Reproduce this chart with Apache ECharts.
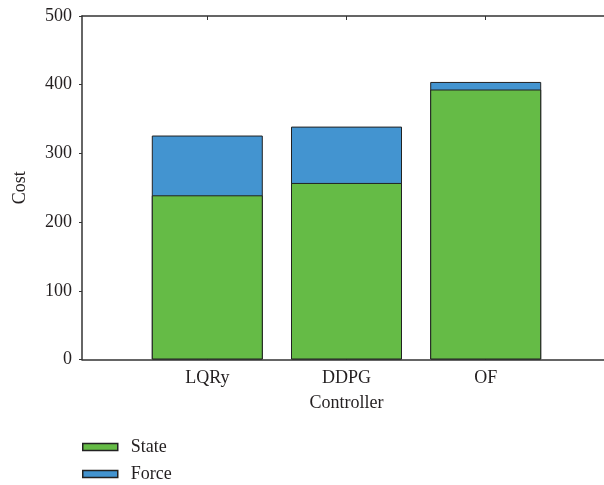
<!DOCTYPE html>
<html>
<head>
<meta charset="utf-8">
<script src="https://cdn.jsdelivr.net/npm/echarts@6/dist/echarts.min.js"></script>
<style>
  html, body { margin: 0; padding: 0; background: #fff; }
  #chart { width: 604px; height: 485px; }
</style>
</head>
<body>
<div id="chart"></div>
<script>
// Controller names along the x axis (placed at positions 1, 2, 3)
const controllers = ['LQRy', 'DDPG', 'OF'];
// Cost components per controller
const stateCost = [239, 257, 393];
const forceCost = [87, 82, 11];
// Y axis ticks
const costTicks = [0, 100, 200, 300, 400, 500];

const positions = controllers.map((_, i) => i + 1);
// Stacked total = state + force; the state bar is drawn over the lower part of it
const totalCost = stateCost.map((s, i) => s + forceCost[i]);

const FONT = '"Liberation Serif", "DejaVu Serif", serif';
const TEXT = '#231f20';
const LINE = '#333333';
const GREEN = '#65bb46';
const BLUE = '#4394d0';

const chart = echarts.init(document.getElementById('chart'), null, { renderer: 'canvas' });

const barStyle = (color) => ({ color: color, borderColor: '#222222', borderWidth: 1 });

chart.setOption({
  animation: false,
  textStyle: { fontFamily: FONT, color: TEXT },
  grid: {
    left: 82, top: 16, width: 529, height: 343.5,
    outerBoundsMode: 'none',
    containLabel: false,
    show: false
  },
  legend: {
    orient: 'vertical',
    left: 82,
    top: 438,
    padding: 0,
    icon: 'rect',
    itemWidth: 35,
    itemHeight: 7,
    itemGap: 9,
    textStyle: { fontFamily: FONT, fontSize: 18, color: TEXT, padding: [0, 0, 0, 8] },
    data: [
      { name: 'State', itemStyle: { color: GREEN, borderColor: '#222222', borderWidth: 1.5 } },
      { name: 'Force', itemStyle: { color: BLUE, borderColor: '#222222', borderWidth: 1.5 } }
    ]
  },
  xAxis: [
    {
      type: 'value',
      position: 'bottom',
      min: 0.1,
      max: 3.9,
      name: 'Controller',
      nameLocation: 'middle',
      nameGap: 35,
      nameTextStyle: { fontFamily: FONT, fontSize: 18, color: TEXT },
      axisLine: { show: true, onZero: false, lineStyle: { color: LINE, width: 1.5 } },
      axisTick: { show: true, inside: true, length: 4, customValues: positions, lineStyle: { color: LINE } },
      axisLabel: {
        customValues: positions,
        margin: 10,
        fontFamily: FONT, fontSize: 18, color: TEXT,
        formatter: (v) => controllers[Math.round(v) - 1] || ''
      },
      splitLine: { show: false }
    },
    {
      type: 'value',
      position: 'top',
      min: 0.1,
      max: 3.9,
      axisLine: { show: true, onZero: false, lineStyle: { color: LINE, width: 1.5 } },
      axisTick: { show: true, inside: true, length: 4, customValues: positions, lineStyle: { color: LINE } },
      axisLabel: { show: false },
      splitLine: { show: false }
    }
  ],
  yAxis: {
    type: 'value',
    min: 0,
    max: 500,
    interval: 100,
    name: 'Cost',
    nameLocation: 'middle',
    nameGap: 53,
    nameRotate: 90,
    nameTextStyle: { fontFamily: FONT, fontSize: 18, color: TEXT },
    axisLine: { show: true, lineStyle: { color: LINE, width: 1.5 } },
    axisTick: { show: true, length: 3, lineStyle: { color: LINE } },
    axisLabel: {
      margin: 10,
      fontFamily: FONT, fontSize: 18, color: TEXT,
      formatter: (v) => costTicks.includes(v) ? String(v) : ''
    },
    splitLine: { show: false }
  },
  series: [
    {
      name: 'Force',
      type: 'bar',
      barWidth: 111,
      barGap: '-100%',
      itemStyle: barStyle(BLUE),
      data: positions.map((p, i) => [p, totalCost[i]])
    },
    {
      name: 'State',
      type: 'bar',
      barWidth: 111,
      barGap: '-100%',
      itemStyle: barStyle(GREEN),
      data: positions.map((p, i) => [p, stateCost[i]])
    }
  ]
});
</script>
</body>
</html>
